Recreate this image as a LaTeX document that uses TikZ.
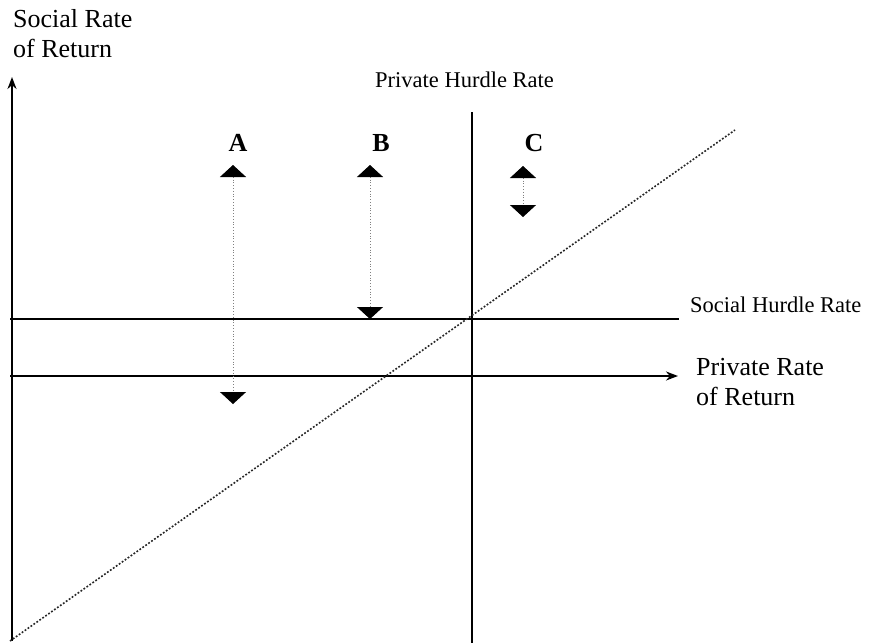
\documentclass[tikz,border=0pt]{standalone}
\usepackage{fontspec}
\setmainfont{Liberation Serif}
\usetikzlibrary{arrows.meta, positioning}

\begin{document}
\begin{tikzpicture}[x=1pt, y=-1pt,
        axis/.style={line width=2pt, -{Stealth[length=12pt,width=9pt]}},
        hurdle/.style={line width=2pt},
        move/.style={gray, line width=0.8pt, dotted,
            {Triangle[black,width=26pt,length=12pt]}-{Triangle[black,width=26pt,length=12pt]}},
        small/.style={font=\fontsize{22.5}{27}\selectfont, inner sep=0pt},
        big/.style={font=\fontsize{26}{30}\selectfont, inner sep=0pt, align=left},
        letter/.style={font=\fontsize{26}{30}\selectfont\bfseries, inner sep=0pt}]
        \useasboundingbox (0,0) rectangle (869,643);

        % Achsen
        \coordinate (o) at (12,641);
        \coordinate (ytop) at (12,77);
        \coordinate (xo) at (10,376);
        \coordinate (xend) at (678,376);
        \draw[axis] (o) -- (ytop);
        \draw[axis] (xo) -- (xend);
        \node[big, anchor=base west] (ylab) at (13,57) {Social Rate\\of Return};
        \node[big, anchor=base west] (xlab) at (696,405) {Private Rate\\of Return};

        % Huerden
        \coordinate (sl) at (10,319);
        \coordinate (sr) at (679,319);
        \coordinate (pt) at (472,112);
        \coordinate (pb) at (472,643);
        \draw[hurdle] (sl) -- (sr);
        \draw[hurdle] (pt) -- (pb);
        \node[small, anchor=base west] (shr) at (690,312) {Social Hurdle Rate};
        \node[small, anchor=base west] (phr) at (375,87) {Private Hurdle Rate};

        % 45-Grad-Linie
        \coordinate (d0) at (10,641);
        \coordinate (d1) at (735,130);
        \draw[line width=1.6pt, dash pattern=on 1.8pt off 1.8pt, black!85] (d0) -- (d1);

        % Projekte
        \node[letter] (A) at (238,143) {A};
        \node[letter] (B) at (381,143) {B};
        \node[letter] (C) at (534,143) {C};
        \coordinate (a1) at (233,165);
        \coordinate (a2) at (233,404);
        \coordinate (b1) at (370,165);
        \coordinate (b2) at (370,319);
        \coordinate (c1) at (523,166);
        \coordinate (c2) at (523,217);
        \draw[move] (a1) -- (a2);
        \draw[move] (b1) -- (b2);
        \draw[move] (c1) -- (c2);
    \end{tikzpicture}
\end{document}
